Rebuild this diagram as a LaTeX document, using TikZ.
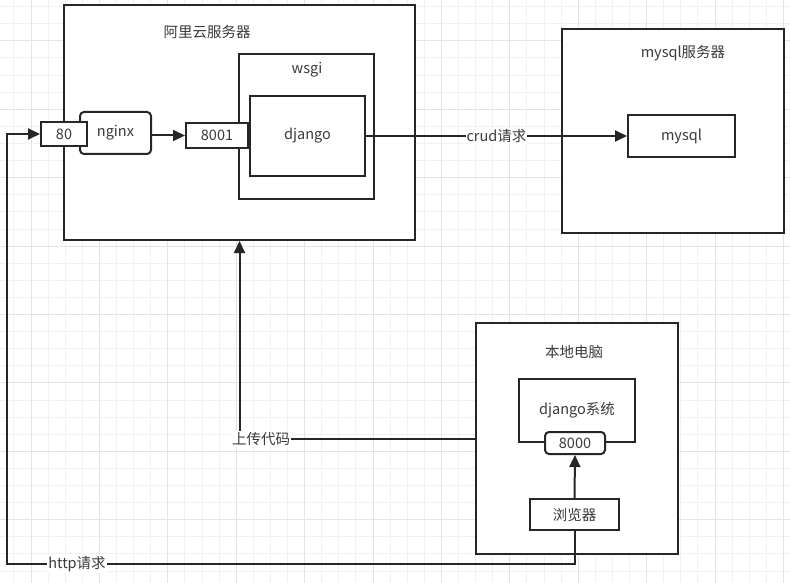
\documentclass[tikz,border=0pt]{standalone}
\usepackage{fontspec}
\setmainfont{Noto Sans CJK SC}
\usetikzlibrary{arrows.meta,positioning,calc}
\definecolor{linegray}{HTML}{262626}
\definecolor{textgray}{HTML}{3A3A3A}
\definecolor{gridminor}{HTML}{F1F1F1}
\definecolor{gridmajor}{HTML}{E4E4E4}

\begin{document}
\begin{tikzpicture}[
  x=1pt, y=-1pt,
  font=\fontsize{14.5}{17}\selectfont, text=textgray,
  box/.style 2 args={draw=linegray, line width=2pt, fill=white, inner sep=0pt,
    minimum width=#1pt, minimum height=#2pt},
  conn/.style={draw=linegray, line width=2pt,
    -{Triangle[length=12pt,width=11pt]}},
  lab/.style={fill=white, inner sep=1pt}]
  \useasboundingbox (0,0) rectangle (790,583);
  % background grid
  \foreach \i in {0,...,45} \draw[gridminor, line width=0.6pt] (13.7+17.1*\i,0) -- ++(0,583);
  \foreach \j in {0,...,33} \draw[gridminor, line width=0.6pt] (0,6.5+17.1*\j) -- ++(790,0);
  \foreach \i in {1,5,...,45} \draw[gridmajor, line width=0.6pt] (13.7+17.1*\i,0) -- ++(0,583);
  \foreach \j in {2,6,...,34} \draw[gridmajor, line width=0.6pt] (0,6.5+17.1*\j) -- ++(790,0);

  % aliyun server
  \node[box={351}{235}] (aliyun) at (239.5,122.5) {};
  \node (aliyuntitle) at (207,32) {阿里云服务器};
  \node[box={135}{145}] (wsgi) at (306.5,126.5) {};
  \node (wsgititle) at (307,70) {wsgi};
  \node[box={115}{80}] (django) at (307.5,136) {django};
  \node[box={62}{25}] (p8001) at (217,135.5) {8001};
  \node[box={71}{42}, rounded corners=4pt] (nginx) at (115.5,133) {nginx};
  \node[box={46}{24}] (p80) at (64,134) {80};

  % mysql server
  \node[box={222}{204}] (mysqlsrv) at (673,131) {};
  \node (mysqltitle) at (683,53) {mysql服务器};
  \node[box={107}{42}] (mysql) at (681.5,136) {mysql};

  % local pc
  \node[box={202}{231}] (pc) at (577,438.5) {};
  \node (pctitle) at (574,352) {本地电脑};
  \node[box={116}{63}] (djsys) at (577,410.5) {django系统};
  \node[box={60}{22}, rounded corners=4pt] (p8000) at (575,443) {8000};
  \node[box={89}{31}] (browser) at (574.5,514.5) {浏览器};

  \coordinate (httpturn) at (7,564);
  \draw[conn] (nginx.east |- p8001) -- (p8001.west);
  \draw[conn] (django.east) -- (mysql.west);
  \draw[conn] (browser.north) -- (p8000.south);
  \draw[conn] (browser.south) |- (httpturn) |- (p80.west);
  \draw[conn] (pc.west) -| (aliyun.south);
  \node[lab] (crudlab) at ($(django.east)!0.5!(mysql.west)$) {crud请求};
  \node[lab] (httplab) at (77,564) {http请求};
  \node[lab] (uplab) at (261,439) {上传代码};
\end{tikzpicture}
\end{document}
